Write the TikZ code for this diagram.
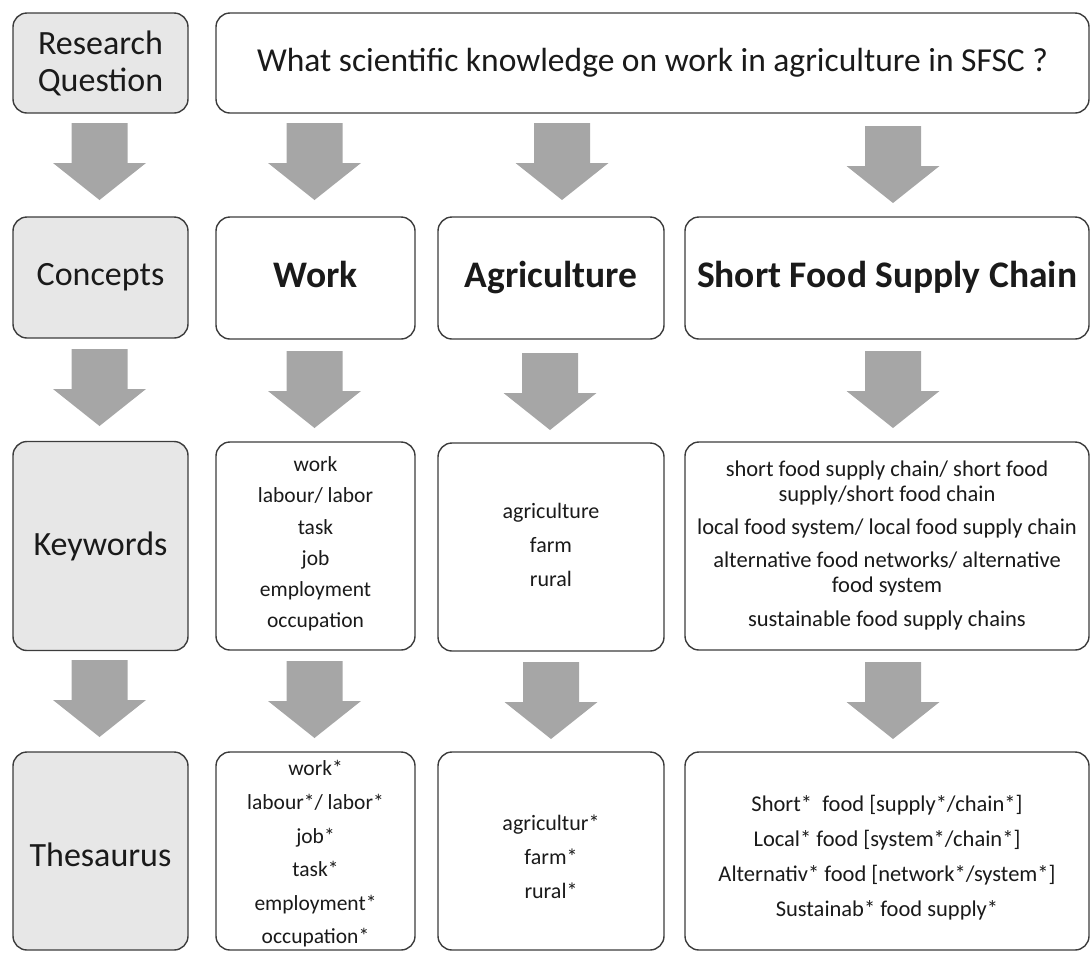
\documentclass[tikz,border=0pt]{standalone}
\usepackage{fontspec}
\setmainfont{Carlito}
\definecolor{boxline}{HTML}{3C3C3C}
\definecolor{boxgray}{HTML}{E7E7E7}
\definecolor{arrgray}{HTML}{A6A6A6}
\definecolor{txt}{HTML}{1A1A1A}
\newcommand{\blockarr}[2]{%
  \fill[arrgray] ({#1-28},{#2}) -- ({#1+28},{#2}) -- ({#1+28},{#2+40}) -- ({#1+46.5},{#2+40})
    -- ({#1},{#2+77}) -- ({#1-46.5},{#2+40}) -- ({#1-28},{#2+40}) -- cycle;}
\begin{document}
\begin{tikzpicture}[x=1pt,y=-1pt,
  box/.style={draw=boxline,line width=1.4pt,rounded corners=14pt,fill=white,
    text=txt,align=center,inner sep=0pt,outer sep=0pt},
  labelbox/.style={box,fill=boxgray,minimum width=175pt,
    font=\fontsize{34}{37}\selectfont},
  headbox/.style={box,font=\fontsize{37.5}{44}\selectfont\bfseries,text height=27pt,text depth=8pt},
  listtext/.style={text=txt,align=center,inner sep=0pt}
]
\useasboundingbox (0,0) rectangle (1092,954);
% left column
\node[labelbox,minimum height=100pt] (rq) at (100.5,63) {Research\\Question};
\node[labelbox,minimum height=121pt] (concepts) at (100.5,277.5) {Concepts};
\node[labelbox,minimum height=209pt] (keywords) at (100.5,546) {Keywords};
\node[labelbox,minimum height=198pt] (thesaurus) at (100.5,851) {};
\node[font=\fontsize{34}{37}\selectfont,text=txt,inner sep=0pt] (thesaurusT) at ([yshift=-4pt]thesaurus.center) {Thesaurus};
% question
\node[box,minimum width=873pt,minimum height=100pt,font=\fontsize{33.5}{37}\selectfont] (question) at (652.5,63)
  {What scientific knowledge on work in agriculture in SFSC ?};
% concepts
\node[headbox,minimum width=199pt,minimum height=122pt] (work) at (315.5,278) {Work};
\node[headbox,minimum width=226pt,minimum height=122pt] (agri) at (551,278) {Agriculture};
\node[headbox,minimum width=404pt,minimum height=122pt] (sfsc) at (887,278) {Short Food Supply Chain};
% keywords
\node[box,minimum width=199pt,minimum height=208pt] (workkw) at (315.5,546) {};
\node[listtext,font=\fontsize{21.5}{31.3}\selectfont] (workkwT) at ([yshift=2pt]workkw.center)
  {work\\labour/ labor\\task\\job\\employment\\occupation};
\node[box,minimum width=226pt,minimum height=208pt] (agrikw) at (551,547) {};
\node[listtext,font=\fontsize{22}{34}\selectfont] (agrikwT) at ([yshift=2pt]agrikw.center)
  {agriculture\\farm\\rural};
\node[box,minimum width=404pt,minimum height=208pt] (sfsckw) at (887,546) {};
\node[listtext,font=\fontsize{22.5}{25}\selectfont] (sfsckwT) at ([yshift=1pt]sfsckw.center)
  {short food supply chain/ short food\\supply/short food chain\\[8pt]
   local food system/ local food supply chain\\[8pt]
   alternative food networks/ alternative\\food system\\[9pt]
   sustainable food supply chains};
% thesaurus
\node[box,minimum width=199pt,minimum height=198pt] (workth) at (315.5,851) {};
\node[listtext,font=\fontsize{21.5}{33.6}\selectfont] (workthT) at ([yshift=-3pt]workth.center)
  {work*\\labour*/ labor*\\job*\\task*\\employment*\\occupation*};
\node[box,minimum width=226pt,minimum height=198pt] (agrith) at (551,851) {};
\node[listtext,font=\fontsize{22}{34}\selectfont] (agrithT) at ([yshift=-6pt]agrith.center)
  {agricultur*\\farm*\\rural*};
\node[box,minimum width=404pt,minimum height=198pt] (sfscth) at (887,851) {};
\node[listtext,font=\fontsize{22.5}{35}\selectfont] (sfscthT) at ([yshift=-7pt]sfscth.center)
  {Short*\ \ food [supply*/chain*]\\Local* food [system*/chain*]\\Alternativ* food [network*/system*]\\Sustainab* food supply*};
% block arrows
\blockarr{99.5}{123}
\blockarr{314.5}{123}
\blockarr{562}{123}
\blockarr{893}{126}
\blockarr{99.5}{349}
\blockarr{314.5}{351}
\blockarr{550}{353}
\blockarr{893}{351}
\blockarr{99.5}{660}
\blockarr{314.5}{661}
\blockarr{551}{662}
\blockarr{893}{662}
\end{tikzpicture}
\end{document}
